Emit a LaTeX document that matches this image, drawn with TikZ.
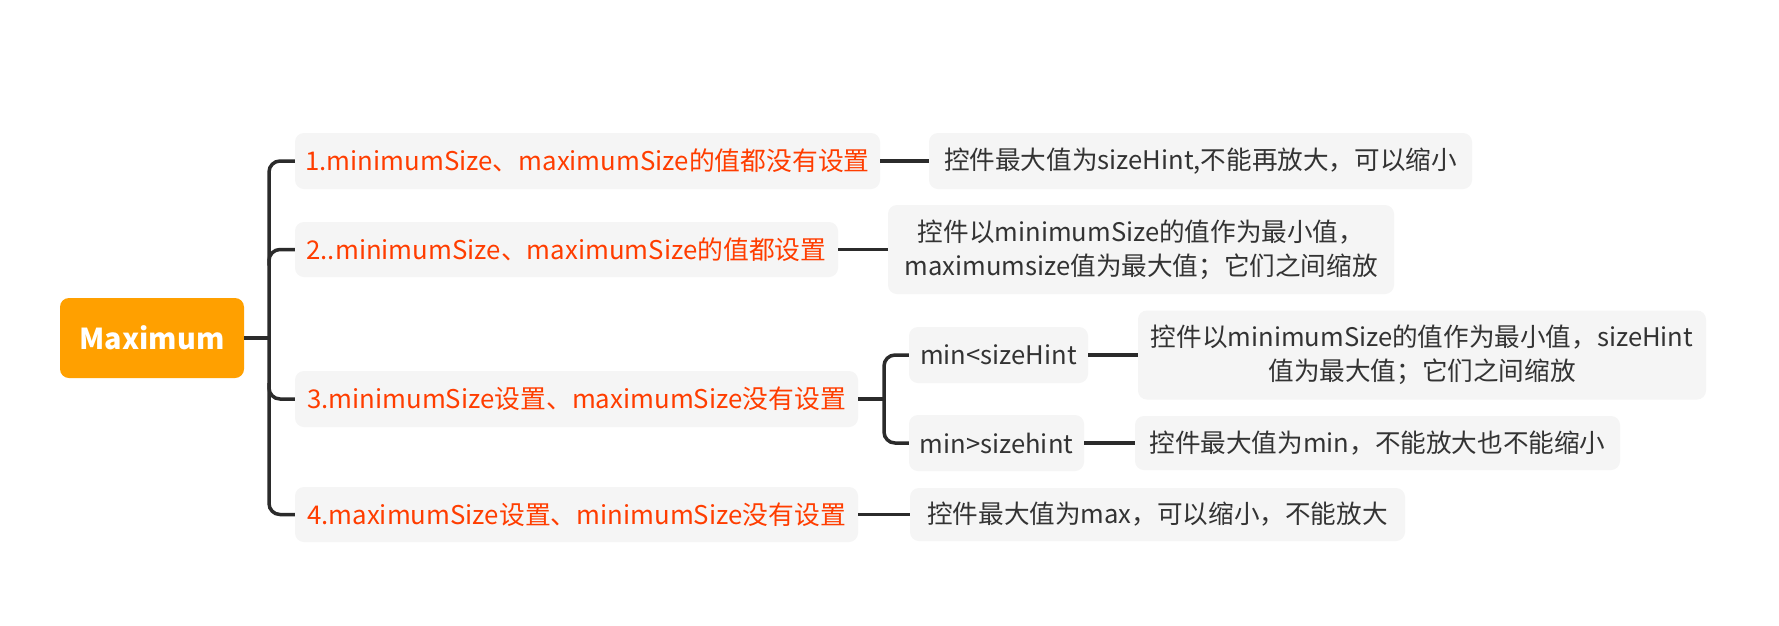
\documentclass[tikz,border=0pt]{standalone}
\usepackage{fontspec}
\setmainfont{Noto Sans CJK SC}
\usetikzlibrary{calc}
\definecolor{rootfill}{HTML}{FFA000}
\definecolor{redtext}{HTML}{FF3D00}
\definecolor{boxfill}{HTML}{F5F5F5}
\definecolor{leaftext}{HTML}{333333}
\definecolor{linecol}{HTML}{2B2B2B}
\begin{document}
\begin{tikzpicture}[x=1pt,y=-1pt,
  rootbox/.style={fill=rootfill, rounded corners=9pt, text=white, inner sep=0pt,
    font=\fontsize{28.8}{32}\selectfont\bfseries},
  branchbox/.style={fill=boxfill, rounded corners=9pt, text=redtext, inner sep=0pt,
    font=\fontsize{25.8}{30}\selectfont},
  leafbox/.style={fill=boxfill, rounded corners=9pt, text=leaftext, inner sep=0pt, align=center,
    font=\fontsize{25.6}{34}\selectfont},
  conn/.style={draw=linecol, line width=3.5pt},
]
\useasboundingbox (0,0) rectangle (1779,625);
\fill[white] (0,0) rectangle (1779,625);

\node[rootbox, minimum width=184pt, minimum height=80pt] (root) at (152,338) {Maximum};

\node[branchbox, minimum width=585pt, minimum height=56pt] (b1) at (587.5,161) {1.minimumSize、maximumSize的值都没有设置};
\node[branchbox, minimum width=543pt, minimum height=55pt] (b2) at (566.5,249.5) {2..minimumSize、maximumSize的值都设置};
\node[branchbox, minimum width=563pt, minimum height=56pt] (b3) at (576.5,399) {3.minimumSize设置、maximumSize没有设置};
\node[branchbox, minimum width=563pt, minimum height=55pt] (b4) at (576.5,514.5) {4.maximumSize设置、minimumSize没有设置};

\node[leafbox, minimum width=543pt, minimum height=56pt] (l1) at (1200.5,161) {控件最大值为sizeHint,不能再放大，可以缩小};
\node[leafbox, minimum width=506pt, minimum height=89pt] (l2) at (1141,249.5) {控件以minimumSize的值作为最小值，\\maximumsize值为最大值；它们之间缩放};
\node[leafbox, minimum width=179pt, minimum height=56pt] (s3a) at (998.5,355) {min<sizeHint};
\node[leafbox, minimum width=175pt, minimum height=56pt] (s3b) at (996.5,443) {min>sizehint};
\node[leafbox, minimum width=568pt, minimum height=89pt] (l3a) at (1422,355) {控件以minimumSize的值作为最小值，sizeHint\\值为最大值；它们之间缩放};
\node[leafbox, minimum width=485pt, minimum height=54pt] (l3b) at (1377.5,443) {控件最大值为min，不能放大也不能缩小};
\node[leafbox, minimum width=495pt, minimum height=53pt] (l4) at (1157.5,514.5) {控件最大值为max，可以缩小，不能放大};

\coordinate (t) at (269,338);
\coordinate (u) at (884,399);

\draw[conn] (root.east) -- (t);
\draw[conn, rounded corners=11pt] (b1.west) -| (t) |- (b4.west);
\draw[conn, rounded corners=11pt] ($(t |- b2.west)+(0,16)$) |- (b2.west);
\draw[conn, rounded corners=11pt] ($(t |- b3.west)+(0,-16)$) |- (b3.west);

\draw[conn] (b3.east) -- (u);
\draw[conn, rounded corners=11pt] (s3a.west) -| (u) |- (s3b.west);

\draw[conn] (b1.east) -- (l1.west);
\draw[conn] (b2.east) -- (l2.west);
\draw[conn] (s3a.east) -- (l3a.west);
\draw[conn] (s3b.east) -- (l3b.west);
\draw[conn] (b4.east) -- (l4.west);
\end{tikzpicture}
\end{document}
